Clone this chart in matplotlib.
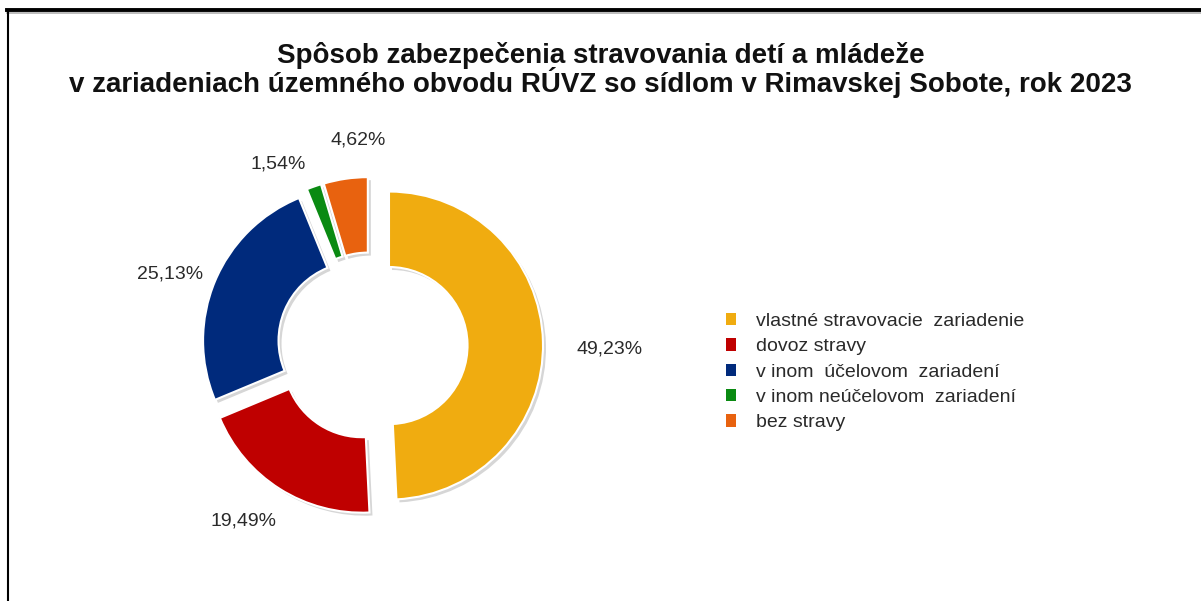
import numpy as np
import matplotlib
matplotlib.use("Agg")
import matplotlib.pyplot as plt
from matplotlib.lines import Line2D

categories = ["vlastné stravovacie  zariadenie", "dovoz stravy",
              "v inom  účelovom  zariadení", "v inom neúčelovom  zariadení",
              "bez stravy"]
shares = [49.23, 19.49, 25.13, 1.54, 4.62]
colors = ["#F0AC10", "#BF0000", "#002A7C", "#0A8A12", "#E8620F"]

title_lines = ["Spôsob zabezpečenia stravovania detí a mládeže",
               "v zariadeniach územného obvodu RÚVZ so sídlom v Rimavskej Sobote, rok 2023"]

plt.rcParams['font.family'] = ['Liberation Sans', 'DejaVu Sans']

W, H = 1201, 601
fig = plt.figure(figsize=(W / 100, H / 100), dpi=100)
ax = fig.add_axes([0, 0, 1, 1])

center = (370, H - 346)
radius = 154
explode = [19, 15, 14, 15, 15]
# label placement relative to each wedge: distance (x radius), angle shift (deg)
lbl_dist = [1.435, 1.30, 1.295, 1.235, 1.255]
lbl_turn = [-1.8, -4.1, 2.5, 7.9, -5.4]

# shadow
ax.pie(shares, colors=['#d6d6d6'] * 5, startangle=90, counterclock=False,
       center=(center[0] + 3, center[1] - 3), radius=radius, explode=explode,
       wedgeprops=dict(width=radius * 0.49, linewidth=0), frame=True)

wedges, _ = ax.pie(shares, colors=colors, startangle=90, counterclock=False,
                   center=center, radius=radius, explode=explode,
                   wedgeprops=dict(width=radius * 0.49, edgecolor='white', linewidth=1.5),
                   frame=True)
ax.set_xlim(0, W)
ax.set_ylim(0, H)
ax.set_aspect('equal')
ax.axis('off')

for w, v, d, t in zip(wedges, shares, lbl_dist, lbl_turn):
    mid = np.deg2rad((w.theta1 + w.theta2) / 2 + t)
    cx, cy = w.center
    ax.text(cx + d * radius * np.cos(mid), cy + d * radius * np.sin(mid) - 6,
            ("%.2f%%" % v).replace('.', ','), ha='center', va='baseline',
            fontsize=14, color='#2a2a2a')

for line, base in zip(title_lines, [63, 92]):
    fig.text(0.5, 1 - base / H, line, ha='center', va='baseline', fontsize=20,
             fontweight='bold', color='#111111')

leg = ax.legend(wedges, categories, loc='upper left',
                bbox_to_anchor=(718 / W, 1 - 305 / H), bbox_transform=fig.transFigure,
                frameon=False, fontsize=14, handlelength=0.55, handleheight=0.6,
                handletextpad=1.0, labelspacing=0.43, borderaxespad=0)
for t in leg.get_texts():
    t.set_color('#2a2a2a')
for h in leg.legend_handles:
    h.set_edgecolor('none')

# frame around the chart
fig.add_artist(Line2D([7 / W, 1], [1 - 10 / H, 1 - 10 / H], color='black', lw=2.8))
fig.add_artist(Line2D([7 / W, 1], [1 - 13 / H, 1 - 13 / H], color='#b0b0b0', lw=1.2))
fig.add_artist(Line2D([8 / W, 8 / W], [0, 1 - 10 / H], color='black', lw=1.5))

fig.savefig("out.png", dpi=100)
